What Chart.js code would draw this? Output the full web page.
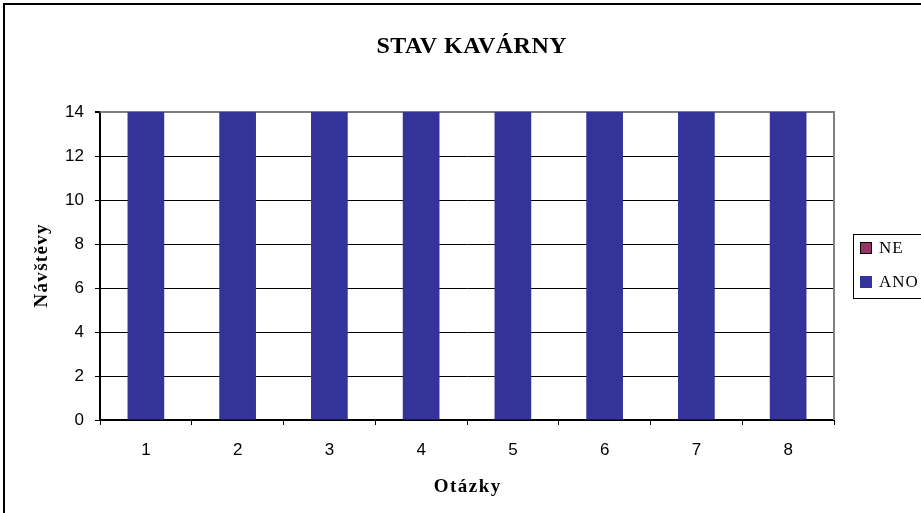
<!DOCTYPE html>
<html>
<head>
<meta charset="utf-8">
<script src="https://cdn.jsdelivr.net/npm/chart.js@4.4.0/dist/chart.umd.min.js"></script>
<style>
  html, body { margin: 0; padding: 0; background: #fff; }
  #wrap { position: absolute; left: 0; top: 0; width: 921px; height: 513px; }
</style>
</head>
<body>
<div id="wrap"><canvas id="chart" width="921" height="513"></canvas></div>
<script>
// data
const categories = ['1', '2', '3', '4', '5', '6', '7', '8'];
const anoValues = [14, 14, 14, 14, 14, 14, 14, 14];
const neValues = [0, 0, 0, 0, 0, 0, 0, 0];
const yTicks = [0, 2, 4, 6, 8, 10, 12, 14];

const chartTitle = 'STAV KAVÁRNY';
const xTitle = 'Otázky';
const yTitle = 'Návštěvy';

const serif = '"Liberation Serif", "Times New Roman", serif';
const sans = '"Liberation Sans", Arial, sans-serif';

// outer frame + grey plot border
const framePlugin = {
  id: 'frame',
  beforeDraw(chart) {
    const ctx = chart.ctx;
    ctx.save();
    ctx.fillStyle = '#fff';
    ctx.fillRect(0, 0, chart.width, chart.height);
    ctx.strokeStyle = '#000';
    ctx.lineWidth = 2;
    ctx.strokeRect(4, 4, 1000, 1000);
    ctx.restore();
  },
  beforeDatasetsDraw(chart) {
    const a = chart.chartArea;
    const ctx = chart.ctx;
    ctx.save();
    ctx.strokeStyle = '#808080';
    ctx.lineWidth = 2;
    ctx.beginPath();
    ctx.moveTo(a.left, a.top);
    ctx.lineTo(a.right, a.top);
    ctx.lineTo(a.right, a.bottom);
    ctx.stroke();
    ctx.restore();
  }
};

// titles with a little letter spacing (excel look)
function spacedText(ctx, text, x, y, spacing) {
  ctx.letterSpacing = spacing + 'px';
  const w = ctx.measureText(text).width - spacing;
  ctx.fillText(text, x - w / 2, y);
}

const titlesPlugin = {
  id: 'titles',
  afterDraw(chart) {
    const ctx = chart.ctx;
    const a = chart.chartArea;
    ctx.save();
    ctx.fillStyle = '#000';
    ctx.textAlign = 'left';
    ctx.textBaseline = 'alphabetic';
    ctx.font = 'bold 24px ' + serif;
    spacedText(ctx, chartTitle, 471.5, 53, 0.5);
    ctx.font = 'bold 19px ' + serif;
    spacedText(ctx, xTitle, (a.left + a.right) / 2, 492, 1.5);
    ctx.translate(47, (a.top + a.bottom) / 2);
    ctx.rotate(-Math.PI / 2);
    spacedText(ctx, yTitle, 0, 0, 1.3);
    ctx.restore();
  }
};

// legend box on the right, reversed like the original
const legendPlugin = {
  id: 'boxLegend',
  afterDraw(chart) {
    const ctx = chart.ctx;
    const items = chart.data.datasets.slice().reverse();
    ctx.save();
    ctx.strokeStyle = '#000';
    ctx.lineWidth = 1;
    ctx.strokeRect(853.5, 234.5, 100, 64);
    ctx.font = '17px ' + serif;
    ctx.letterSpacing = '1px';
    ctx.textBaseline = 'middle';
    items.forEach((ds, i) => {
      const y = 242 + i * 34;
      ctx.fillStyle = ds.backgroundColor;
      ctx.fillRect(860, y, 12, 12);
      if (ds.legendBorder) {
        ctx.strokeStyle = '#000';
        ctx.strokeRect(860.5, y + 0.5, 11, 11);
      }
      ctx.fillStyle = '#000';
      ctx.fillText(ds.label, 879, y + 7);
    });
    ctx.restore();
  }
};

const ctx = document.getElementById('chart').getContext('2d');
new Chart(ctx, {
  type: 'bar',
  data: {
    labels: categories,
    datasets: [
      { label: 'ANO', data: anoValues, backgroundColor: '#333399', barPercentage: 0.4, categoryPercentage: 1 },
      { label: 'NE', data: neValues, backgroundColor: '#993366', legendBorder: true, barPercentage: 0.4, categoryPercentage: 1 }
    ]
  },
  options: {
    responsive: false,
    animation: false,
    layout: { padding: { left: 0, top: 112, right: 87, bottom: 0 } },
    plugins: {
      legend: { display: false },
      tooltip: { enabled: false },
      title: { display: false }
    },
    scales: {
      x: {
        stacked: true,
        afterFit(scale) { scale.height = 93; },
        grid: { drawOnChartArea: false, offset: true, tickLength: 5, tickColor: '#000', lineWidth: 1 },
        border: { color: '#000', width: 2 },
        ticks: { color: '#000', font: { family: sans, size: 17 }, padding: 15, maxRotation: 0 }
      },
      y: {
        stacked: true,
        min: 0,
        max: 14,
        afterFit(scale) { scale.width = 100; },
        afterBuildTicks(scale) { scale.ticks = yTicks.map(v => ({ value: v })); },
        grid: {
          color: c => (c.tick && c.tick.value === 14 ? '#808080' : '#000'),
          lineWidth: c => (c.tick && c.tick.value === 14 ? 2 : 1),
          tickLength: 5,
          tickColor: '#000'
        },
        border: { color: '#000', width: 2 },
        ticks: { color: '#000', font: { family: sans, size: 17 }, padding: 11 }
      }
    }
  },
  plugins: [framePlugin, titlesPlugin, legendPlugin]
});
</script>
</body>
</html>
